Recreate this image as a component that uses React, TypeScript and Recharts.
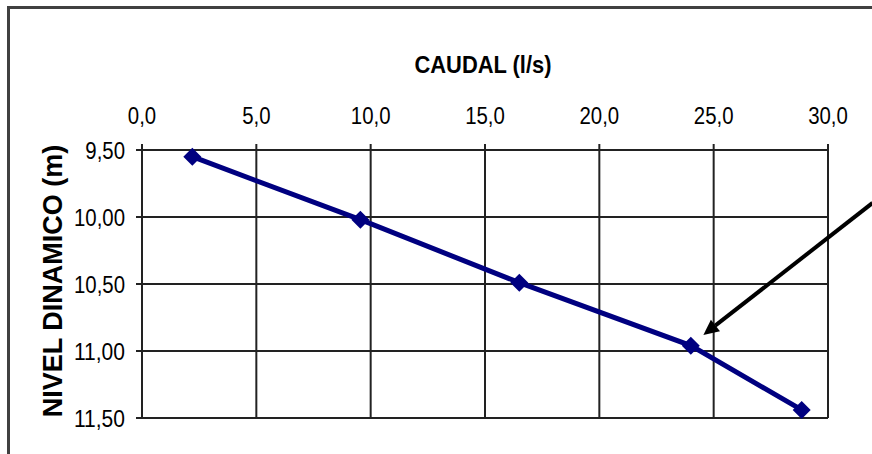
import React from "react";
import {
  LineChart,
  Line,
  XAxis,
  YAxis,
  CartesianGrid,
  ReferenceLine,
} from "recharts";

// caudal (l/s) vs nivel dinamico (m)
const caudal = [2.2, 9.55, 16.5, 24.0, 28.85];
const nivel = [9.55, 10.02, 10.49, 10.96, 11.44];
const xTicks = [0, 5, 10, 15, 20, 25, 30];
const yTicks = [9.5, 10, 10.5, 11, 11.5];
// arrow annotation (data coords): from outside the plot down to the 4th point
const arrowFrom = { x: 31.95, y: 9.895 };
const arrowTo = { x: 24.55, y: 10.88 };

const data = caudal.map((q, i) => ({ q, nd: nivel[i] }));

const FONT = "Arial, 'Liberation Sans', sans-serif";
const TICK_SIZE = 24;
const SQUEEZE = 0.85;

const fmt1 = (v: number) => v.toFixed(1).replace(".", ",");
const fmt2 = (v: number) => v.toFixed(2).replace(".", ",");

// rough Arial advance widths, used to squeeze the text like a narrow face
const textWidth = (s: string, size: number) =>
  s.split("").reduce((w, c) => w + (c === "," ? 0.278 : 0.556), 0) * size;

const NarrowText: React.FC<{
  x: number;
  y: number;
  value: string;
  anchor: "start" | "middle" | "end";
  dy?: string;
}> = ({ x, y, value, anchor, dy }) => (
  <text
    x={x}
    y={y}
    dy={dy}
    textAnchor={anchor}
    fontFamily={FONT}
    fontSize={TICK_SIZE}
    fill="#000"
    textLength={textWidth(value, TICK_SIZE) * SQUEEZE}
    lengthAdjust="spacingAndGlyphs"
  >
    {value}
  </text>
);

const XTick = (props: any) => {
  const { x, y, payload } = props;
  return <NarrowText x={x} y={y} value={fmt1(payload.value)} anchor="middle" />;
};

const YTick = (props: any) => {
  const { x, y, payload } = props;
  return <NarrowText x={x} y={y} value={fmt2(payload.value)} anchor="end" dy="0.36em" />;
};

interface DotProps {
  cx?: number;
  cy?: number;
}

const Diamond: React.FC<DotProps> = ({ cx, cy }) => {
  if (typeof cx !== "number" || typeof cy !== "number") return null;
  const r = 9;
  return (
    <polygon
      points={`${cx},${cy - r} ${cx + r},${cy} ${cx},${cy + r} ${cx - r},${cy}`}
      fill="#000080"
    />
  );
};

const YTitle = (props: any) => {
  const vb = props.viewBox || {};
  const x = vb.x + 11;
  const y = vb.y + vb.height / 2 - 3;
  return (
    <text
      x={x}
      y={y}
      transform={`rotate(-90, ${x}, ${y})`}
      textAnchor="middle"
      dominantBaseline="central"
      fontFamily={FONT}
      fontWeight="bold"
      fontSize={27}
      fill="#000"
    >
      NIVEL DINAMICO (m)
    </text>
  );
};

const XTitle = (props: any) => {
  const vb = props.viewBox || {};
  return (
    <text
      x={vb.x + vb.width / 2 - 2}
      y={73}
      textAnchor="middle"
      fontFamily={FONT}
      fontWeight="bold"
      fontSize={24}
      textLength={137}
      lengthAdjust="spacingAndGlyphs"
      fill="#000"
    >
      CAUDAL (l/s)
    </text>
  );
};

const Arrow = (props: any) => {
  const { x1, y1, x2, y2 } = props;
  if ([x1, y1, x2, y2].some((v) => typeof v !== "number")) return null;
  const ang = Math.atan2(y2 - y1, x2 - x1);
  const len = 17;
  const half = 0.45;
  const bx = x2 - (len - 2) * Math.cos(ang);
  const by = y2 - (len - 2) * Math.sin(ang);
  const p1 = `${x2 - len * Math.cos(ang - half)},${y2 - len * Math.sin(ang - half)}`;
  const p2 = `${x2 - len * Math.cos(ang + half)},${y2 - len * Math.sin(ang + half)}`;
  return (
    <g>
      <line x1={x1} y1={y1} x2={bx} y2={by} stroke="#000" strokeWidth={4} />
      <polygon points={`${x2},${y2} ${p1} ${p2}`} fill="#000" />
    </g>
  );
};

export default function App() {
  return (
    <div style={{ position: "absolute", left: 0, top: 0, width: 872, height: 454, overflow: "hidden", background: "#fff" }}>
      <div
        style={{
          position: "absolute",
          left: 7,
          top: 6,
          width: 900,
          height: 500,
          borderLeft: "3px solid #404040",
          borderTop: "3px solid #404040",
        }}
      />
      <div style={{ position: "absolute", left: 0, top: 0 }}>
        <LineChart
          width={872}
          height={454}
          data={data}
          margin={{ top: 70, right: 44, bottom: 36, left: 42 }}
        >
          <CartesianGrid stroke="#222" strokeWidth={2} strokeOpacity={1} />
          <XAxis
            type="number"
            dataKey="q"
            orientation="top"
            domain={[0, 30]}
            ticks={xTicks}
            height={80}
            tick={<XTick />}
            tickMargin={20}
            axisLine={{ stroke: "#222", strokeWidth: 2 }}
            tickLine={{ stroke: "#222", strokeWidth: 2 }}
            label={<XTitle />}
          />
          <YAxis
            type="number"
            dataKey="nd"
            reversed
            domain={[9.5, 11.5]}
            ticks={yTicks}
            width={100}
            tick={<YTick />}
            tickMargin={11}
            axisLine={{ stroke: "#222", strokeWidth: 2 }}
            tickLine={{ stroke: "#222", strokeWidth: 2 }}
            label={<YTitle />}
          />
          <Line
            type="linear"
            dataKey="nd"
            stroke="#000080"
            strokeWidth={5}
            dot={<Diamond />}
            activeDot={false}
            isAnimationActive={false}
          />
          <ReferenceLine
            segment={[arrowFrom, arrowTo]}
            ifOverflow="visible"
            shape={<Arrow />}
          />
        </LineChart>
      </div>
    </div>
  );
}
